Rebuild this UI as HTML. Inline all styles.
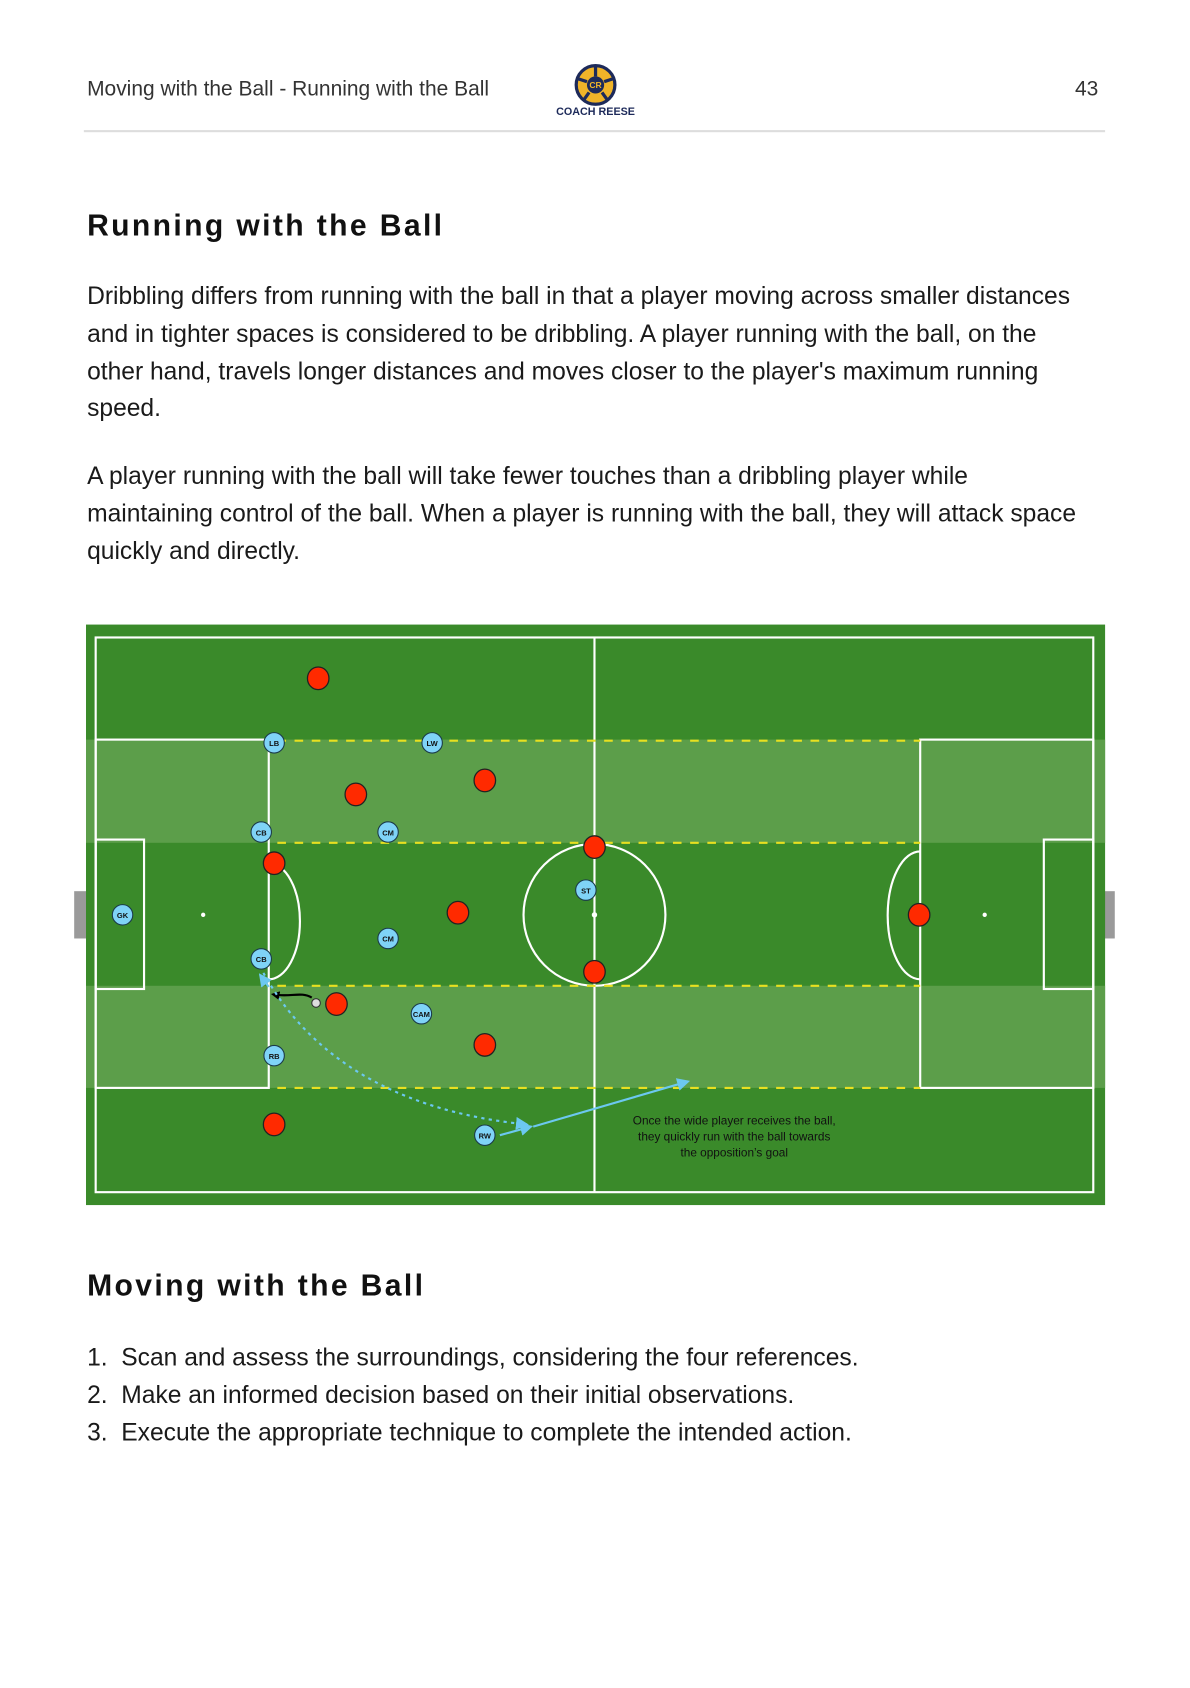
<!DOCTYPE html>
<html><head><meta charset="utf-8"><style>
html,body{margin:0;padding:0;background:#fff;width:1190px;height:1684px;overflow:hidden}
#w{position:absolute;left:0;top:0;width:1100px;height:1570px;transform:scale(1.075);transform-origin:0 0;font-family:"Liberation Sans",sans-serif;color:#111}
.hd{position:absolute;top:72px;font-size:19.5px;color:#333}
.p{position:absolute;left:81px;font-size:22.9px;line-height:34.8px;white-space:nowrap;color:#1a1a1a}
h1{position:absolute;margin:0;font-size:28px;font-weight:bold;letter-spacing:2.2px;left:81px}
</style></head><body><div id="w">
<div class="hd" style="left:81px">Moving with the Ball - Running with the Ball</div>
<div class="hd" style="left:1000px">43</div>
<svg style="position:absolute;left:510px;top:56px" width="90" height="56" viewBox="0 0 90 56">
<circle cx="44" cy="23" r="18" fill="#f0b429" stroke="#1d2a5a" stroke-width="3"/>
<circle cx="44" cy="23" r="8" fill="#1d2a5a"/>
<text x="44" y="26" font-size="8" font-weight="bold" fill="#f0b429" text-anchor="middle" font-family="Liberation Sans">CR</text>
<path d="M44 5 L44 15 M27 17 L36 20 M61 17 L52 20 M33 37 L38 30 M55 37 L50 30" stroke="#1d2a5a" stroke-width="3"/>
<text x="44" y="51" font-size="10" font-weight="bold" fill="#1d2a5a" text-anchor="middle" font-family="Liberation Sans">COACH REESE</text>
</svg>
<div style="position:absolute;left:78px;top:121px;width:950px;height:2px;background:#ddd"></div>
<h1 style="top:194px">Running with the Ball</h1>
<div class="p" style="top:258px">Dribbling differs from running with the ball in that a player moving across smaller distances<br>and in tighter spaces is considered to be dribbling. A player running with the ball, on the<br>other hand, travels longer distances and moves closer to the player's maximum running<br>speed.</div>
<div class="p" style="top:425px">A player running with the ball will take fewer touches than a dribbling player while<br>maintaining control of the ball. When a player is running with the ball, they will attack space<br>quickly and directly.</div>

<svg style="position:absolute;left:0;top:0" width="1100" height="1200" viewBox="0 0 1100 1200">
<defs>
<marker id="bl" markerWidth="8" markerHeight="8" refX="6" refY="4" orient="auto" markerUnits="userSpaceOnUse"><path d="M0,0 L8,4 L0,8 z" fill="#000"/></marker>
<marker id="ab" markerWidth="12" markerHeight="12" refX="10" refY="6" orient="auto" markerUnits="userSpaceOnUse"><path d="M0,0 L12,6 L0,12 z" fill="#6cc8f0"/></marker>
</defs>
<rect x="69" y="829" width="22" height="44" fill="#9a9a9a"/>
<rect x="1015" y="829" width="22" height="44" fill="#9a9a9a"/>
<rect x="80" y="581" width="948" height="540" fill="#3a8a2a"/>
<rect x="80" y="688" width="948" height="96" fill="#5c9e4a"/>
<rect x="80" y="917" width="948" height="95" fill="#5c9e4a"/>
<g fill="none" stroke="#fff" stroke-width="2">
<rect x="89" y="593" width="928" height="516"/>
<line x1="553" y1="593" x2="553" y2="1109"/>
<circle cx="553" cy="851" r="66"/>
<rect x="89" y="688" width="161" height="324"/>
<rect x="856" y="688" width="161" height="324"/>
<rect x="89" y="781" width="45" height="139"/>
<rect x="971" y="781" width="46" height="139"/>
<path d="M250 803 A29 54 0 0 1 250 911"/>
<path d="M856 792 A30 59 0 0 0 856 911"/>
</g>
<circle cx="553" cy="851" r="2.5" fill="#fff"/><circle cx="189" cy="851" r="2" fill="#fff"/><circle cx="916" cy="851" r="2" fill="#fff"/>
<g stroke="#e8e020" stroke-width="2" stroke-dasharray="8,8">
<line x1="258" y1="689" x2="856" y2="689"/><line x1="258" y1="784" x2="856" y2="784"/>
<line x1="258" y1="917" x2="856" y2="917"/><line x1="258" y1="1012" x2="856" y2="1012"/>
</g>
<g fill="#ff2a00" stroke="#222" stroke-width="1.2">
<ellipse cx="296" cy="631" rx="10" ry="10.5"/><ellipse cx="331" cy="739" rx="10" ry="10.5"/><ellipse cx="451" cy="726" rx="10" ry="10.5"/>
<ellipse cx="553" cy="788" rx="10" ry="10.5"/><ellipse cx="255" cy="803" rx="10" ry="10.5"/><ellipse cx="426" cy="849" rx="10" ry="10.5"/>
<ellipse cx="553" cy="904" rx="10" ry="10.5"/><ellipse cx="855" cy="851" rx="10" ry="10.5"/><ellipse cx="313" cy="934" rx="10" ry="10.5"/>
<ellipse cx="451" cy="972" rx="10" ry="10.5"/><ellipse cx="255" cy="1046" rx="10" ry="10.5"/>
</g>
<circle cx="294" cy="933" r="4" fill="#ddd" stroke="#333"/>
<path d="M290 928 C280 922 270 928 254 925" fill="none" stroke="#000" stroke-width="2" marker-end="url(#bl)"/>
<path d="M245 905 C270 950 330 1030 490 1046" fill="none" stroke="#6cc8f0" stroke-width="2" stroke-dasharray="3,4" marker-end="url(#ab)"/>
<path d="M250 918 L242 907" stroke="#6cc8f0" stroke-width="2" marker-end="url(#ab)"/>
<path d="M465 1056 L494 1048" stroke="#6cc8f0" stroke-width="2" marker-end="url(#ab)"/>
<path d="M496 1048 L640 1006" stroke="#6cc8f0" stroke-width="2" marker-end="url(#ab)"/>
<g fill="#7fd3f7" stroke="#1a3a4a" stroke-width="1">
<circle cx="255" cy="691" r="9.5"/><circle cx="402" cy="691" r="9.5"/><circle cx="243" cy="774" r="9.5"/><circle cx="361" cy="774" r="9.5"/>
<circle cx="114" cy="851" r="9.5"/><circle cx="545" cy="828" r="9.5"/><circle cx="361" cy="873" r="9.5"/><circle cx="243" cy="892" r="9.5"/>
<circle cx="392" cy="943" r="9.5"/><circle cx="255" cy="982" r="9.5"/><circle cx="451" cy="1056" r="9.5"/>
</g>
<g font-family="Liberation Sans" font-size="7" font-weight="bold" fill="#111" text-anchor="middle">
<text x="255" y="694">LB</text><text x="402" y="694">LW</text><text x="243" y="777">CB</text><text x="361" y="777">CM</text>
<text x="114" y="854">GK</text><text x="545" y="831">ST</text><text x="361" y="876">CM</text><text x="243" y="895">CB</text>
<text x="392" y="946">CAM</text><text x="255" y="985">RB</text><text x="451" y="1059">RW</text>
</g>
<g font-family="Liberation Sans" font-size="11" fill="#111" text-anchor="middle">
<text x="683" y="1046">Once the wide player receives the ball,</text>
<text x="683" y="1061">they quickly run with the ball towards</text>
<text x="683" y="1076">the opposition’s goal</text>
</g>
</svg>

<h1 style="top:1180px">Moving with the Ball</h1>
<div class="p" style="top:1245px">1.&nbsp;&nbsp;Scan and assess the surroundings, considering the four references.<br>2.&nbsp;&nbsp;Make an informed decision based on their initial observations.<br>3.&nbsp;&nbsp;Execute the appropriate technique to complete the intended action.</div>
</div></body></html>
